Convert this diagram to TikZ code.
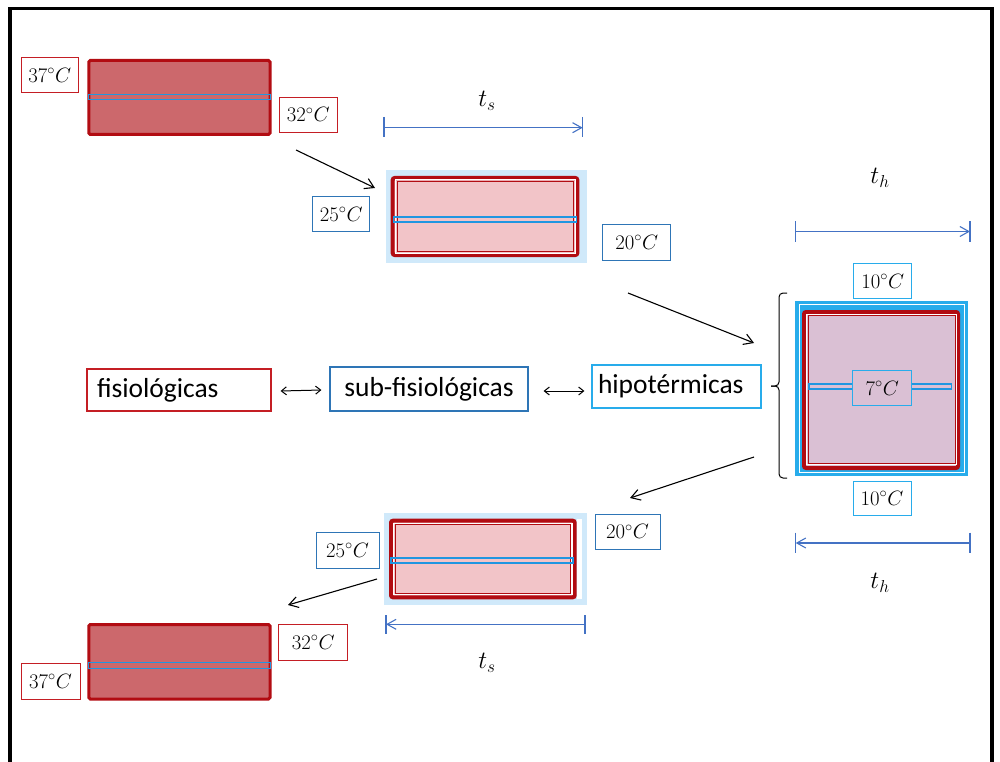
\documentclass[tikz,border=0pt]{standalone}
\usepackage{fontspec}
\setsansfont{Carlito}
\usetikzlibrary{arrows.meta}
\definecolor{dred}{RGB}{178,12,18}
\definecolor{hotfill}{RGB}{204,104,108}
\definecolor{pinkfill}{RGB}{242,196,200}
\definecolor{purfill}{RGB}{218,192,212}
\definecolor{bgblue}{RGB}{208,233,250}
\definecolor{stripblue}{RGB}{32,150,225}
\definecolor{labred}{RGB}{196,30,36}
\definecolor{labblue}{RGB}{46,117,182}
\definecolor{lablight}{RGB}{40,172,235}
\definecolor{dimblue}{RGB}{68,114,196}
\begin{document}
\begin{tikzpicture}[x=1pt,y=-1pt,
  frameline/.style={line width=3.3pt},
  hot/.style={draw=dred, line width=3pt, fill=hotfill, rounded corners=1.5pt},
  cool/.style={draw=dred, line width=4pt, fill=pinkfill, rounded corners=2pt},
  thinred/.style={draw=dred, line width=0.8pt},
  gapline/.style={draw=white, line width=1.2pt},
  strip/.style={draw=stripblue, line width=1.3pt},
  tlab/.style={draw=#1, line width=1pt, fill=white, inner sep=0pt, font=\fontsize{22}{25}\selectfont},
  word/.style={draw=#1, line width=1.2pt, fill=white, font=\sffamily\fontsize{27.5}{31}\selectfont},
  flow/.style={-{Straight Barb[length=9pt,width=11pt]}, line width=1.1pt},
  dbl/.style={{Straight Barb[length=5pt,width=8pt]}-{Straight Barb[length=5pt,width=8pt]}, line width=1pt},
  dimln/.style={draw=dimblue, line width=1.1pt},
  dimarrow/.style={draw=dimblue, line width=1.1pt, -{Straight Barb[length=9pt,width=10pt]}},
  sym/.style={font=\fontsize{26}{30}\selectfont, inner sep=0pt}]
\useasboundingbox (0,0) rectangle (1000,762);
% frame
\draw[frameline] (10,770) -- (10,8.3) -- (992,8.3) -- (992,770);

% ---------- top-left block ----------
\draw[hot] (88.8,60.5) rectangle (270,134.5);
\draw[strip] (88.5,94.3) rectangle (270.5,99.3);
\node[tlab=labred, minimum width=57, minimum height=35.5] (tl37) at (49.7,75.2) {$37^{\circ}C$};
\node[tlab=labred, minimum width=58, minimum height=35.5] (tl32) at (308.3,114.8) {$32^{\circ}C$};

% ---------- t_s top ----------
\node[sym] (ts1) at (487,101) {$t_s$};
\draw[dimln] (384,117) -- (384,137);
\draw[dimln] (582.7,117) -- (582.7,137);
\coordinate (ts1a) at (384,127.7);
\coordinate (ts1b) at (582.7,127.7);
\draw[dimarrow] (ts1a) -- (ts1b);

% ---------- top-middle block ----------
\fill[bgblue] (386,170) rectangle (587,263);
\draw[cool] (392.7,178) rectangle (577.3,255);
\draw[gapline] (395.6,179.6) rectangle (575.2,253.2);
\draw[thinred] (396.9,181.2) rectangle (573.8,251.6);
\draw[strip] (393.5,217) rectangle (576.5,222);
\node[tlab=labblue, minimum width=57.3, minimum height=35.3] (tm25) at (341.3,214.3) {$25^{\circ}C$};
\node[tlab=labblue, minimum width=67.7, minimum height=36] (tm20) at (636.8,242) {$20^{\circ}C$};

% ---------- t_h top ----------
\node[sym] (th1) at (880,178) {$t_h$};
\draw[dimln] (795.7,221) -- (795.7,242);
\draw[dimln] (970,221) -- (970,242);
\coordinate (th1a) at (795.7,231.5);
\coordinate (th1b) at (970,231.5);
\draw[dimarrow] (th1a) -- (th1b);

% ---------- right block ----------
\fill[lablight] (795,300.7) rectangle (968,475.7);
\draw[white, line width=1pt] (799,304.5) rectangle (964,472);
\draw[draw=dred, line width=4pt, fill=purfill, rounded corners=2pt] (804,312) rectangle (958,468);
\draw[gapline] (806.6,314.4) rectangle (956.2,464.6);
\draw[thinred] (807.9,315.8) rectangle (955,463);
\draw[strip] (809,384) rectangle (951.7,389);
\node[tlab=lablight, fill=purfill, minimum width=59.3, minimum height=35.3] (r7) at (882.3,388.3) {$7^{\circ}C$};
\node[tlab=lablight, minimum width=58, minimum height=35.3] (r10a) at (882.7,281.3) {$10^{\circ}C$};
\node[tlab=lablight, minimum width=58, minimum height=34] (r10b) at (882,498) {$10^{\circ}C$};
% brace
\draw[line width=1pt, rounded corners=4pt] (787,293) -- (779,293) -- (779,386) -- (771,386);
\draw[line width=1pt, rounded corners=4pt] (771,386) -- (779,386) -- (779,478) -- (787,478);

% ---------- middle row ----------
\node[word=labred, minimum height=42, text width=164, inner xsep=10, align=left] (fis) at (179,390) {fisiológicas};
\node[word=labblue, minimum width=198, minimum height=44] (sub) at (429,389) {sub-fisiológicas};
\node[word=lablight, minimum height=43, text width=157, inner xsep=6, inner ysep=0, align=left] (hipo) at (676.5,386.5) {hipotérmicas};
\draw[dbl] ([xshift=9pt,yshift=-1pt]fis.east) -- ([xshift=-8pt,yshift=-1pt]sub.west);
\draw[dbl] ([xshift=15pt,yshift=-2pt]sub.east) -- ([xshift=-7pt,yshift=-4.5pt]hipo.west);

% ---------- bottom-middle block ----------
\fill[bgblue] (384,512.7) rectangle (586.7,605);
\fill[white] (577,518.7) rectangle (582,599.3);
\draw[cool] (391,520.7) rectangle (574.7,597.3);
\draw[gapline] (393.8,523.4) rectangle (572,594.6);
\draw[thinred] (395.2,524.8) rectangle (570.6,593.2);
\draw[strip] (391,558) rectangle (573,563);
\node[tlab=labblue, minimum width=63, minimum height=36] (bm25) at (347.5,550) {$25^{\circ}C$};
\node[tlab=labblue, minimum width=65, minimum height=35] (bm20) at (627.5,531.5) {$20^{\circ}C$};

% ---------- t_h bottom ----------
\draw[dimln] (795.7,532.7) -- (795.7,553);
\draw[dimln] (970,532.7) -- (970,553);
\coordinate (th2a) at (970,543);
\coordinate (th2b) at (795.7,543);
\draw[dimarrow] (th2a) -- (th2b);
\node[sym] (th2) at (880,583) {$t_h$};

% ---------- t_s bottom ----------
\draw[dimln] (386,615) -- (386,634);
\draw[dimln] (585,615) -- (585,634);
\coordinate (ts2a) at (585,624.3);
\coordinate (ts2b) at (386,624.3);
\draw[dimarrow] (ts2a) -- (ts2b);
\node[sym] (ts2) at (487,663) {$t_s$};

% ---------- bottom-left block ----------
\draw[hot] (88.8,624.5) rectangle (270,699);
\draw[strip] (88.5,662.3) rectangle (270.5,668.7);
\node[tlab=labred, minimum width=68.7, minimum height=36] (bl32) at (313.3,642) {$32^{\circ}C$};
\node[tlab=labred, minimum width=59, minimum height=36] (bl37) at (50.5,681) {$37^{\circ}C$};

% ---------- flow arrows ----------
\coordinate (f1a) at (296,150); \coordinate (f1b) at (375,188);
\coordinate (f2a) at (628,293); \coordinate (f2b) at (754,343);
\coordinate (f3a) at (754,457); \coordinate (f3b) at (630,498);
\coordinate (f4a) at (377,579); \coordinate (f4b) at (288,605);
\draw[flow] (f1a) -- (f1b);
\draw[flow] (f2a) -- (f2b);
\draw[flow] (f3a) -- (f3b);
\draw[flow] (f4a) -- (f4b);
\end{tikzpicture}
\end{document}
